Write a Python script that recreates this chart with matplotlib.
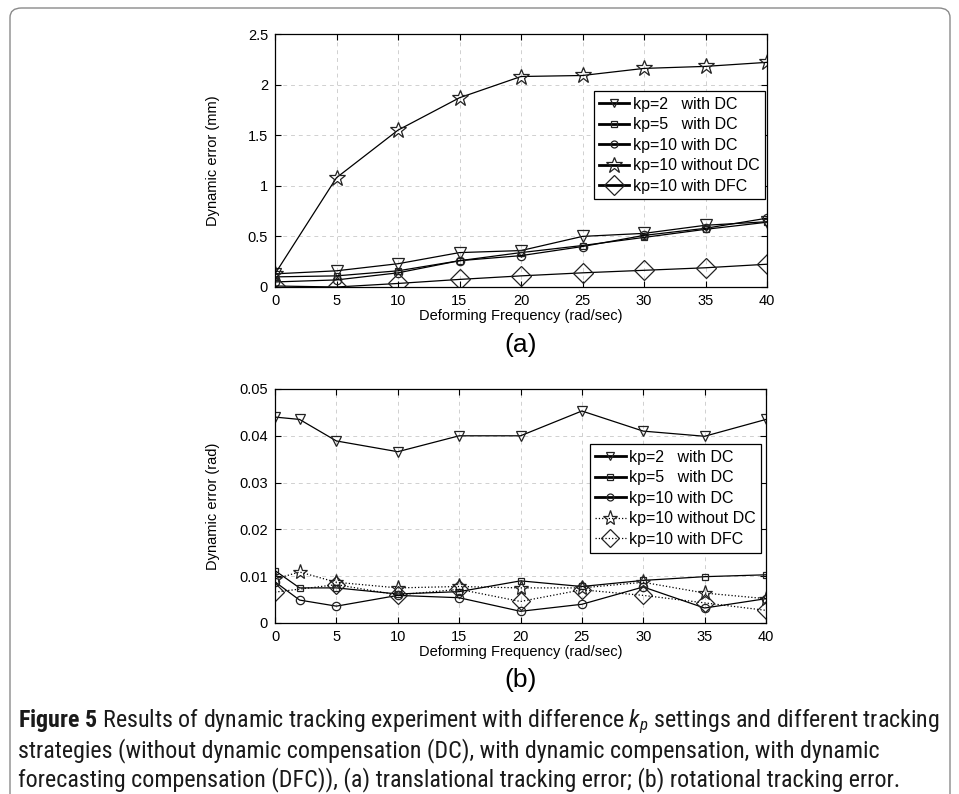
import numpy as np
import matplotlib
matplotlib.use("Agg")
import matplotlib.pyplot as plt
from matplotlib import font_manager
from matplotlib.patches import FancyBboxPatch
from matplotlib.ticker import FuncFormatter


def pick_font(names):
    for n in names:
        try:
            font_manager.findfont(n, fallback_to_default=False)
            return n
        except Exception:
            pass
    return "DejaVu Sans"


axis_font = pick_font(["Liberation Sans", "Arial", "DejaVu Sans"])
cap_font = pick_font(["Liberation Sans Narrow", "Roboto Condensed", "Open Sans", "Liberation Sans"])

plt.rcParams["font.family"] = [axis_font, "DejaVu Sans"]
plt.rcParams["mathtext.fontset"] = "custom"
plt.rcParams["mathtext.rm"] = cap_font
plt.rcParams["mathtext.it"] = cap_font + ":italic"
plt.rcParams["mathtext.bf"] = cap_font + ":bold"

# (a) translational error, mm
freq = [0, 5, 10, 15, 20, 25, 30, 35, 40]
trans_kp2_dc = [0.13, 0.16, 0.23, 0.34, 0.36, 0.50, 0.53, 0.61, 0.645]
trans_kp5_dc = [0.10, 0.11, 0.16, 0.26, 0.34, 0.41, 0.49, 0.57, 0.64]
trans_kp10_dc = [0.05, 0.07, 0.14, 0.26, 0.31, 0.40, 0.51, 0.58, 0.68]
trans_kp10_nodc = [0.13, 1.08, 1.55, 1.87, 2.08, 2.09, 2.16, 2.18, 2.22]
trans_kp10_dfc = [0.01, 0.0, 0.035, 0.075, 0.11, 0.14, 0.165, 0.19, 0.225]

# (b) rotational error, rad
freq_b = [0, 2, 5, 10, 15, 20, 25, 30, 35, 40]
rot_kp2_dc = [0.0440, 0.0435, 0.0389, 0.0366, 0.0400, 0.0400, 0.0453, 0.0410, 0.0399, 0.0435]
rot_kp5_dc = [0.0112, 0.0075, 0.0075, 0.0062, 0.0067, 0.0090, 0.0078, 0.0091, 0.0099, 0.0103]
rot_kp10_dc = [0.0088, 0.0049, 0.0036, 0.0059, 0.0054, 0.0025, 0.0040, 0.0077, 0.0032, 0.0052]
rot_kp10_nodc = [0.0094, 0.0109, 0.0087, 0.0075, 0.0078, 0.0075, 0.0075, 0.0087, 0.0064, 0.0052]
freq_dfc = [0, 5, 10, 15, 20, 25, 30, 35, 40]
rot_kp10_dfc = [0.0066, 0.0082, 0.0060, 0.0072, 0.0046, 0.0071, 0.0059, 0.0043, 0.0027]

labels = ["kp=2   with DC", "kp=5   with DC", "kp=10 with DC",
          "kp=10 without DC", "kp=10 with DFC"]

fig = plt.figure(figsize=(9.59, 7.94), dpi=100)

W, H = 959.0, 794.0


def px_axes(l, t, r, b):
    return fig.add_axes([l / W, 1 - b / H, (r - l) / W, (b - t) / H])


def style_axes(ax):
    ax.grid(True, ls=(0, (4, 4)), color="#d0d0d0", lw=0.7)
    ax.set_axisbelow(True)
    ax.tick_params(direction="in", top=True, right=True, length=4,
                   labelsize=10.5, pad=5, width=0.8)
    for s in ax.spines.values():
        s.set_linewidth(0.9)
    ax.yaxis.set_major_formatter(FuncFormatter(lambda v, p: "%g" % round(v, 4)))
    ax.yaxis.set_label_coords(-0.112, 0.5)


def make_legend(ax, anchor, sizes):
    leg = ax.legend(loc="upper right", bbox_to_anchor=anchor, borderaxespad=0,
                    fontsize=11.5, handlelength=1.9, handletextpad=0.2, labelspacing=0.35,
                    fancybox=False, framealpha=1, edgecolor="black", borderpad=0.35)
    leg.get_frame().set_linewidth(0.9)
    for ln, ms in zip(leg.get_lines(), sizes):
        ln.set_markersize(ms)
        if ln.get_linestyle() == "-":
            ln.set_linewidth(2)
    return leg


line_kw = dict(color="black", lw=0.9, mfc="none", mec="#222222", mew=0.9)

# top panel
ax1 = px_axes(275, 34, 767, 287)
ax1.plot(freq, trans_kp2_dc, marker="v", ms=8, label=labels[0], **line_kw)
ax1.plot(freq, trans_kp5_dc, marker="s", ms=5, label=labels[1], **line_kw)
ax1.plot(freq, trans_kp10_dc, marker="o", ms=6, label=labels[2], **line_kw)
ax1.plot(freq, trans_kp10_nodc, marker="*", ms=12, label=labels[3], **line_kw)
ax1.plot(freq, trans_kp10_dfc, marker="D", ms=10, label=labels[4], **line_kw)
ax1.set_xlim(0, 40)
ax1.set_ylim(0, 2.5)
ax1.set_xticks(np.arange(0, 41, 5))
ax1.set_yticks(np.arange(0, 2.51, 0.5))
style_axes(ax1)
ax1.set_ylabel("Dynamic error (mm)", fontsize=10.5)
ax1.set_xlabel("Deforming Frequency (rad/sec)", fontsize=10.5, labelpad=1)
make_legend(ax1, (0.996, 0.775), [5.5, 4, 5, 12, 10])
fig.text(521 / W, 1 - 345 / H, "(a)", ha="center", va="center", fontsize=19)

# bottom panel
ax2 = px_axes(275, 389, 766, 623)
ax2.plot(freq_b, rot_kp2_dc, marker="v", ms=7, label=labels[0], **line_kw)
ax2.plot(freq_b, rot_kp5_dc, marker="s", ms=4.5, label=labels[1], **line_kw)
ax2.plot(freq_b, rot_kp10_dc, marker="o", ms=6, label=labels[2], **line_kw)
dot_kw = dict(line_kw, ls=":")
ax2.plot(freq_b, rot_kp10_nodc, marker="*", ms=11, label=labels[3], **dot_kw)
ax2.plot(freq_dfc, rot_kp10_dfc, marker="D", ms=9, label=labels[4], **dot_kw)
ax2.set_xlim(0, 40)
ax2.set_ylim(0, 0.05)
ax2.set_xticks(np.arange(0, 41, 5))
ax2.set_yticks(np.arange(0, 0.051, 0.01))
style_axes(ax2)
ax2.set_ylabel("Dynamic error (rad)", fontsize=10.5)
ax2.set_xlabel("Deforming Frequency (rad/sec)", fontsize=10.5, labelpad=1)
make_legend(ax2, (0.99, 0.765), [5.5, 4, 5, 11, 9])
fig.text(521 / W, 1 - 680 / H, "(b)", ha="center", va="center", fontsize=19)

# caption, sized so the first line spans the frame width
cap = [r"$\mathbf{Figure\ 5}$ Results of dynamic tracking experiment with difference $k_p$ settings and different tracking",
       "strategies (without dynamic compensation (DC), with dynamic compensation, with dynamic",
       "forecasting compensation (DFC)), (a) translational tracking error; (b) rotational tracking error."]
renderer = fig.canvas.get_renderer()
probe = fig.text(0, 0, cap[0], fontsize=14, family=[cap_font, "DejaVu Sans"])
w0 = probe.get_window_extent(renderer).width
probe.remove()
cap_size = 14 * 925.0 / w0
for i, line in enumerate(cap):
    fig.text(18 / W, 1 - (722 + 29 * i) / H, line, ha="left", va="center",
             fontsize=cap_size, family=[cap_font, "DejaVu Sans"], color="#1a1a1a")

# outer frame
frame = FancyBboxPatch((10 / W, -0.05), 940 / W, 1.05 - 8 / H,
                       boxstyle="round,pad=0,rounding_size=0.012",
                       transform=fig.transFigure, fill=False,
                       edgecolor="#8a8a8a", lw=1.0)
fig.patches.append(frame)

fig.savefig("out.png", dpi=100)
